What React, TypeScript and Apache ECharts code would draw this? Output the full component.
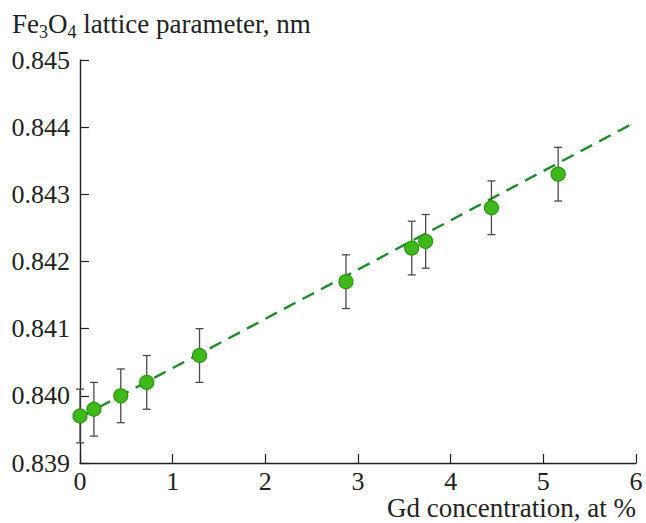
import React, { useEffect, useRef } from "react";
import * as echarts from "echarts";

const gdConcentration = [0, 0.15, 0.44, 0.72, 1.29, 2.87, 3.58, 3.73, 4.44, 5.16];
const latticeParam = [0.8397, 0.8398, 0.84, 0.8402, 0.8406, 0.8417, 0.8422, 0.8423, 0.8428, 0.8433];
const errorHalf = [0.0004, 0.0004, 0.0004, 0.0004, 0.0004, 0.0004, 0.0004, 0.0004, 0.0004, 0.0004];
const fitLine = [
  [0, 0.83968],
  [6, 0.84408],
];
const xTicks = [0, 1, 2, 3, 4, 5, 6];
const titleParts: [string, boolean][] = [
  ["Fe", false],
  ["3", true],
  ["O", false],
  ["4", true],
  [" lattice parameter, nm", false],
];
const xAxisTitle = "Gd concentration, at %";

const FONT = "Liberation Serif";
const MAIN_SIZE = 27;
const SUB_SIZE = 18;

function measure(text: string, size: number): number {
  const c = document.createElement("canvas").getContext("2d");
  if (!c) return text.length * size * 0.5;
  c.font = `${size}px "${FONT}"`;
  return c.measureText(text).width;
}

export default function App() {
  const ref = useRef<HTMLDivElement>(null);
  useEffect(() => {
    if (!ref.current) return;
    const chart = echarts.init(ref.current, undefined, { renderer: "svg" });
    const pts = gdConcentration.map((x, i) => [x, latticeParam[i]]);
    const errs = gdConcentration.map((x, i) => [x, latticeParam[i] - errorHalf[i], latticeParam[i] + errorHalf[i]]);

    const titleEls: any[] = [];
    let cx = 12;
    for (const [t, sub] of titleParts) {
      const size = sub ? SUB_SIZE : MAIN_SIZE;
      titleEls.push({
        type: "text",
        x: cx,
        y: sub ? 32 : 24,
        style: {
          text: t,
          fontFamily: FONT,
          fontSize: size,
          lineHeight: sub ? 18 : 27,
          fill: "#222",
          align: "left",
          verticalAlign: "middle",
        },
      });
      cx += measure(t, size);
    }

    chart.setOption({
      animation: false,
      backgroundColor: "#ffffff",
      grid: { left: 80, right: 10, top: 60, bottom: 60, containLabel: false },
      xAxis: {
        type: "value",
        min: 0,
        max: 6,
        interval: 1,
        axisLine: { lineStyle: { color: "#222", width: 1.4 } },
        axisTick: { inside: true, length: 9, lineStyle: { color: "#222", width: 1.2 } },
        axisLabel: {
          color: "#222",
          fontFamily: FONT,
          fontSize: 26,
          lineHeight: 25,
          margin: 6,
          formatter: (v: number) => (xTicks.includes(v) ? String(v) : ""),
        },
        splitLine: { show: false },
      },
      yAxis: {
        type: "value",
        min: 0.839,
        max: 0.845,
        interval: 0.001,
        axisLine: { show: true, lineStyle: { color: "#222", width: 1.4 } },
        axisTick: { show: true, inside: true, length: 9, lineStyle: { color: "#222", width: 1.2 } },
        axisLabel: {
          color: "#222",
          fontFamily: FONT,
          fontSize: 26,
          margin: 10,
          formatter: (v: number) => v.toFixed(3),
        },
        splitLine: { show: false },
      },
      graphic: [
        ...titleEls,
        {
          type: "text",
          x: 636,
          y: 508,
          style: {
            text: xAxisTitle,
            fontFamily: FONT,
            fontSize: MAIN_SIZE,
            lineHeight: 26,
            fill: "#222",
            align: "right",
            verticalAlign: "middle",
          },
        },
      ],
      series: [
        {
          type: "line",
          data: fitLine,
          showSymbol: false,
          symbol: "none",
          lineStyle: { color: "#1e8c2a", width: 2.4, type: [13, 8] },
          z: 2,
        },
        {
          type: "custom",
          data: errs,
          z: 3,
          renderItem: (params: any, api: any) => {
            const x = api.value(0);
            const lo = api.coord([x, api.value(1)]);
            const hi = api.coord([x, api.value(2)]);
            const cw = 4;
            const st = { stroke: "#4a4a4a", lineWidth: 1.3 };
            return {
              type: "group",
              children: [
                { type: "line", shape: { x1: lo[0], y1: lo[1], x2: hi[0], y2: hi[1] }, style: st },
                { type: "line", shape: { x1: lo[0] - cw, y1: lo[1], x2: lo[0] + cw, y2: lo[1] }, style: st },
                { type: "line", shape: { x1: hi[0] - cw, y1: hi[1], x2: hi[0] + cw, y2: hi[1] }, style: st },
              ],
            };
          },
        },
        {
          type: "scatter",
          data: pts,
          symbol: "circle",
          symbolSize: 14,
          itemStyle: { color: "#3fb81a", borderColor: "#2a9412", borderWidth: 1.2, opacity: 1 },
          z: 4,
        },
      ],
    });
    return () => chart.dispose();
  }, []);
  return <div ref={ref} style={{ position: "fixed", left: 0, top: 0, width: 646, height: 523 }} />;
}
